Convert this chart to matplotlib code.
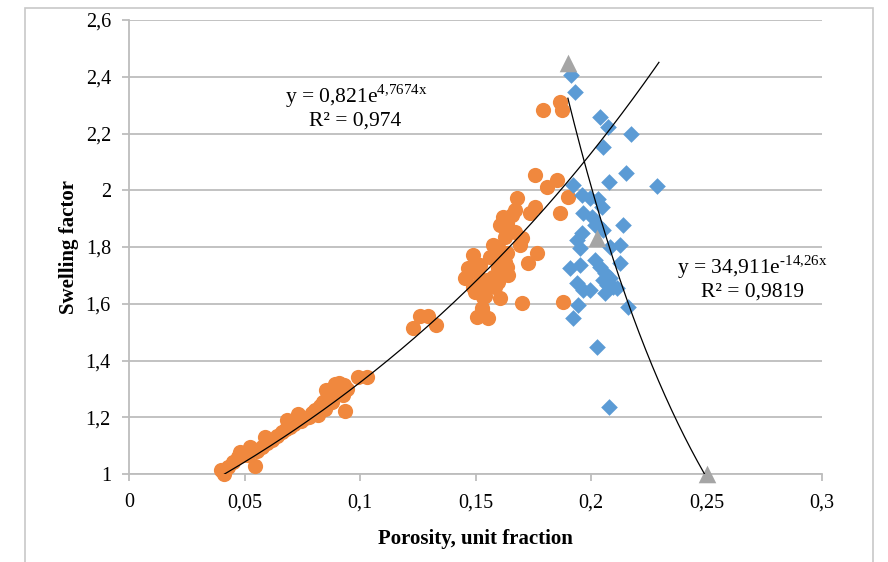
import numpy as np
import matplotlib
matplotlib.use("Agg")
import matplotlib.pyplot as plt
from matplotlib.patches import Rectangle

# ---------------- data ----------------
orange_x = [0.0398, 0.0411, 0.0429, 0.0450, 0.0472, 0.0494, 0.0515, 0.0545, 0.0554, 0.0576,
            0.0597, 0.0619, 0.0641, 0.0662, 0.0680, 0.0697, 0.0714, 0.0732, 0.0745, 0.0762,
            0.0779, 0.0792, 0.0805, 0.0818, 0.0827, 0.0840, 0.0848, 0.0857, 0.0870, 0.0879,
            0.0887, 0.0900, 0.0913, 0.0926, 0.0935, 0.0944, 0.0991, 0.1030,
            0.0853, 0.0892, 0.0909, 0.0931, 0.0684, 0.0589, 0.0524, 0.0481,
            0.1229, 0.1260, 0.1294, 0.1329,
            0.1455, 0.1468, 0.1489, 0.1506, 0.1519, 0.1532, 0.1506, 0.1528, 0.1554, 0.1498,
            0.1541, 0.1489, 0.1550, 0.1584, 0.1563, 0.1576, 0.1597, 0.1597, 0.1606, 0.1615,
            0.1619, 0.1628, 0.1636, 0.1619, 0.1636, 0.1628, 0.1636, 0.1641, 0.1658, 0.1671,
            0.1680, 0.1671, 0.1693, 0.1701, 0.1701, 0.1727, 0.1736, 0.1758, 0.1758, 0.1766,
            0.1810, 0.1853, 0.1866, 0.1900, 0.1879, 0.1792, 0.1866, 0.1874, 0.1532, 0.1528,
            0.1606, 0.1519, 0.1576, 0.1597]
orange_y = [1.014, 1.000, 1.025, 1.042, 1.060, 1.067, 1.067, 1.028, 1.081, 1.095,
            1.109, 1.120, 1.134, 1.148, 1.159, 1.166, 1.176, 1.211, 1.187, 1.197,
            1.201, 1.215, 1.226, 1.208, 1.240, 1.254, 1.229, 1.268, 1.278, 1.254,
            1.296, 1.285, 1.300, 1.278, 1.222, 1.300, 1.342, 1.342,
            1.296, 1.317, 1.321, 1.314, 1.190, 1.130, 1.095, 1.078,
            1.515, 1.557, 1.557, 1.525,
            1.691, 1.726, 1.772, 1.708, 1.659, 1.638, 1.553, 1.578, 1.550, 1.641,
            1.627, 1.659, 1.684, 1.659, 1.765, 1.807, 1.800, 1.726, 1.620, 1.885,
            1.906, 1.835, 1.885, 1.765, 1.779, 1.747, 1.730, 1.701, 1.913, 1.930,
            1.973, 1.853, 1.807, 1.832, 1.603, 1.744, 1.920, 1.941, 2.054, 1.779,
            2.011, 2.036, 1.920, 1.976, 1.606, 2.283, 2.311, 2.283, 1.624, 1.585,
            1.878, 1.737, 1.694, 1.677]

blue_x = [0.1913, 0.1931, 0.2039, 0.2074, 0.2173, 0.2052, 0.2152, 0.2078, 0.2286, 0.1922,
          0.1961, 0.1996, 0.2030, 0.2048, 0.1965, 0.2004, 0.2017, 0.2052, 0.2139, 0.1961,
          0.1939, 0.1952, 0.2126, 0.2082, 0.2126, 0.1909, 0.1952, 0.2017, 0.2039, 0.2061,
          0.2082, 0.2052, 0.1939, 0.1965, 0.1996, 0.2061, 0.2095, 0.1944, 0.2160, 0.1922,
          0.2026, 0.2078, 0.2030, 0.2113, 0.2069]
blue_y = [2.406, 2.346, 2.258, 2.223, 2.198, 2.152, 2.061, 2.029, 2.015, 2.018,
          1.983, 1.973, 1.969, 1.941, 1.920, 1.906, 1.878, 1.860, 1.878, 1.849,
          1.825, 1.796, 1.807, 1.800, 1.744, 1.726, 1.737, 1.754, 1.730, 1.708,
          1.691, 1.684, 1.673, 1.648, 1.648, 1.638, 1.659, 1.596, 1.589, 1.550,
          1.448, 1.236, 1.878, 1.656, 1.666]

tri_x = [0.19, 0.2025, 0.25]
tri_y = [2.45, 1.83, 1.00]

# trendline coefficients (as printed on chart)
fit1_a, fit1_b = 0.821, 4.7674
fit2_a, fit2_b = 34.911, -14.26
fit1_range = [0.0413, 0.2294]
fit2_range = [0.19, 0.252]

x_ticks = [0, 0.05, 0.1, 0.15, 0.2, 0.25, 0.3]
x_ticklabels = ['0', '0,05', '0,1', '0,15', '0,2', '0,25', '0,3']
y_ticks = [1, 1.2, 1.4, 1.6, 1.8, 2.0, 2.2, 2.4, 2.6]
y_ticklabels = ['1', '1,2', '1,4', '1,6', '1,8', '2', '2,2', '2,4', '2,6']

# ---------------- plot ----------------
plt.rcParams['font.family'] = ['Liberation Serif', 'DejaVu Serif']
plt.rcParams['mathtext.fontset'] = 'stix'

fig = plt.figure(figsize=(8.88, 5.62), dpi=100)
ax = fig.add_axes([129/888, 1-474/562, (822-129)/888, (474-20)/562])

# outer frame
fig.patches.append(Rectangle((25/888, -0.05), (873-25)/888, 1.05 - 8/562,
                             transform=fig.transFigure, fill=False,
                             edgecolor='#C8C8C8', lw=1.2))

ax.set_xlim(0, 0.3)
ax.set_ylim(1, 2.6)
ax.set_yticks(y_ticks)
ax.set_yticklabels(y_ticklabels)
ax.set_xticks(x_ticks)
ax.set_xticklabels(x_ticklabels)
ax.grid(axis='y', color='#BDBDBD', lw=1.3)
ax.set_axisbelow(True)
for s in ['top', 'right']:
    ax.spines[s].set_visible(False)
for s in ['left', 'bottom']:
    ax.spines[s].set_color('#BDBDBD')
    ax.spines[s].set_linewidth(1.3)
ax.tick_params(axis='both', colors='#BDBDBD', length=5, width=1.3,
               labelcolor='black', labelsize=14.5)
ax.tick_params(axis='y', pad=8)
ax.tick_params(axis='x', pad=9)

ax.scatter(orange_x, orange_y, s=120, color='#F0883E', marker='o',
           linewidths=0, zorder=3, clip_on=False)
ax.scatter(blue_x, blue_y, s=72, color='#5B9BD5', marker='D',
           linewidths=0, zorder=3, clip_on=False)
ax.scatter(tri_x, tri_y, s=160, color='#A5A5A5', marker='^',
           linewidths=0, zorder=4, clip_on=False)

xs1 = np.linspace(fit1_range[0], fit1_range[1], 200)
ax.plot(xs1, fit1_a * np.exp(fit1_b * xs1), color='black', lw=0.9, zorder=5)
xs2 = np.linspace(fit2_range[0], fit2_range[1], 200)
ax.plot(xs2, fit2_a * np.exp(fit2_b * xs2), color='black', lw=0.9, zorder=5)

ax.text(356/888, 1-96/562, 'y = 0,821e$^{\\mathregular{4{,}7674x}}$',
        transform=fig.transFigure, ha='center', va='center', fontsize=15.5)
ax.text(355/888, 1-121/562, 'R² = 0,974',
        transform=fig.transFigure, ha='center', va='center', fontsize=15.5)
ax.text(752/888, 1-267/562, 'y = 34,911e$^{\\mathregular{\u201014{,}26x}}$',
        transform=fig.transFigure, ha='center', va='center', fontsize=15.5)
ax.text(752/888, 1-292/562, 'R² = 0,9819',
        transform=fig.transFigure, ha='center', va='center', fontsize=15.5)

ax.set_xlabel('Porosity, unit fraction', fontsize=15, fontweight='bold', labelpad=12)
ax.set_ylabel('Swelling factor', fontsize=15, fontweight='bold', labelpad=5)

fig.savefig('out.png', dpi=100)
